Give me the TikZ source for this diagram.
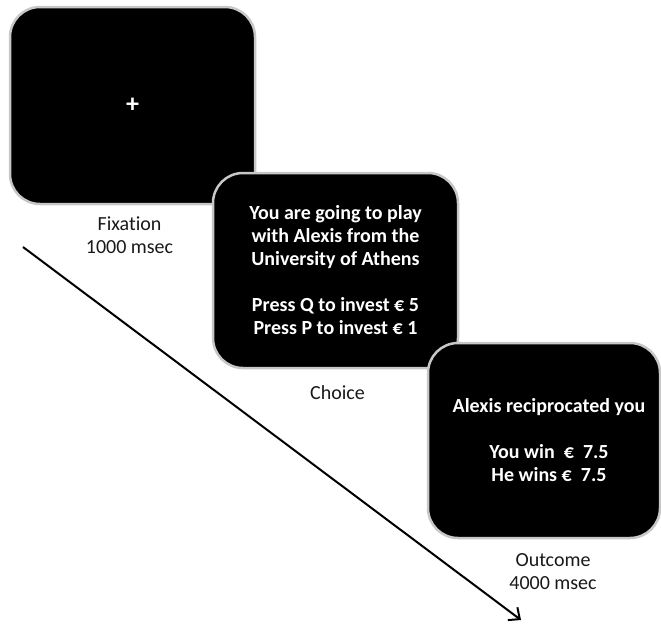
\documentclass[tikz,border=0pt]{standalone}
\usepackage{fontspec}
\setmainfont{Carlito}[Ligatures=NoCommon]
\usetikzlibrary{positioning,arrows.meta}

\begin{document}
\begin{tikzpicture}[
	x=1pt,y=-1pt,
	screen/.style={draw=black!22,line width=2.5pt,fill=black,rounded corners=30pt,
		text=white,font=\bfseries\fontsize{20}{23}\selectfont,align=center},
	caption/.style={text=black!90,font=\fontsize{20}{23}\selectfont,align=center},
	timeline/.style={line width=2pt,-{Straight Barb[length=9pt,width=16pt,line width=2pt]}}]
\useasboundingbox (0,0) rectangle (661,624);
% the three screens
\node[screen,minimum width=245pt,minimum height=197pt] (fix) at (132.5,105.5)
	{\fontsize{26}{26}\selectfont +};
\node[screen,minimum width=245pt,minimum height=195pt] (choice) at (335.5,270.5)
	{You are going to play\\with Alexis from the\\University of Athens\\[23pt]
	 Press Q to invest € 5\\Press P to invest € 1};
\node[screen,minimum width=232pt,minimum height=195pt] (outcome) at (544,440.5)
	{\hspace*{10pt}Alexis reciprocated you\\[23pt]\hspace*{10pt}You win\ \ €\ \ 7.5\\
	 \hspace*{10pt}He wins €\ \ 7.5};
% labels
\node[caption,below=8pt of fix,xshift=-3pt] (fixlbl) {Fixation\\1000 msec};
\node[caption,below=13pt of choice,xshift=2pt] (choicelbl) {Choice};
\node[caption,below=11pt of outcome,xshift=9pt] (outcomelbl) {Outcome\\4000 msec};
% time arrow
\coordinate (tstart) at (23,247);
\coordinate (tend) at (521,620);
\draw[timeline] (tstart) -- (tend);
\end{tikzpicture}
\end{document}
